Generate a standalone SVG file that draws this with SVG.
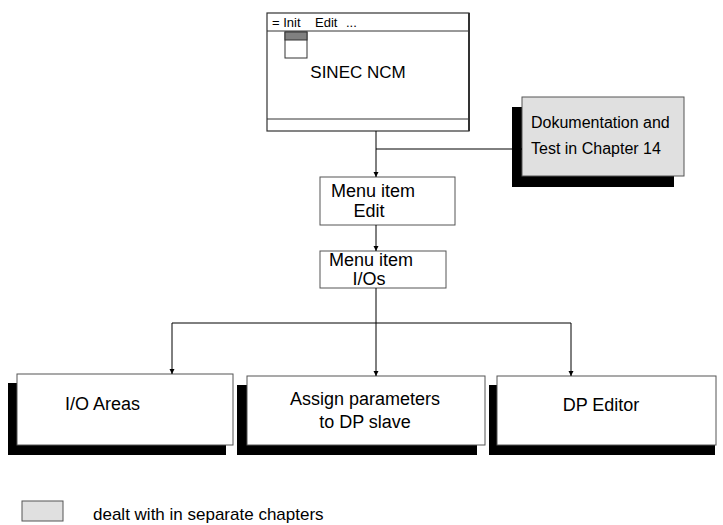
<svg xmlns="http://www.w3.org/2000/svg" width="723" height="525" viewBox="0 0 723 525">
  <defs>
    <marker id="arrow" markerWidth="6" markerHeight="6" refX="5" refY="3" orient="auto" markerUnits="userSpaceOnUse">
      <path d="M0,0.5 L5,3 L0,5.5 Z" fill="#000"/>
    </marker>
  </defs>
  <style>
    text { font-family: "Liberation Sans", Arial, sans-serif; fill: #000; }
    .lbl { font-size: 18px; }
    .doc { font-size: 16px; }
    .note { font-size: 17px; }
    .menu { font-size: 13px; }
    .box { fill: #fff; stroke: #555; stroke-width: 1; }
    .grey { fill: #e0e0e0; stroke: #555; stroke-width: 1; }
    .shadow { fill: #000; }
    .win { fill: #fff; stroke: #333; stroke-width: 1.2; }
    .conn { fill: none; stroke: #000; stroke-width: 1; }
    .mid { text-anchor: middle; }
  </style>
  <rect width="723" height="525" fill="#fff"/>

  <!-- application window -->
  <g id="sinec-ncm">
    <rect class="win" x="267" y="13" width="202" height="118"/>
    <line x1="267" y1="31" x2="469" y2="31" stroke="#333" stroke-width="1"/>
    <line x1="267" y1="119" x2="469" y2="119" stroke="#333" stroke-width="1"/>
    <line x1="469" y1="13" x2="469" y2="131" stroke="#333" stroke-width="2"/>
    <text class="menu" y="27"><tspan x="272">= Init</tspan><tspan x="315">Edit</tspan><tspan x="346">...</tspan></text>
    <rect x="285" y="32" width="22" height="26" fill="#fff" stroke="#333" stroke-width="1"/>
    <rect x="285" y="32" width="22" height="8" fill="#808080" stroke="#333" stroke-width="1"/>
    <text class="note mid" x="358" y="78">SINEC NCM</text>
  </g>

  <!-- documentation box -->
  <g id="doku">
    <rect class="shadow" x="512" y="107" width="162" height="80"/>
    <rect class="grey" x="522" y="97" width="162" height="79"/>
    <text class="doc" x="531" y="128">Dokumentation and</text>
    <text class="doc" x="531" y="154">Test in Chapter 14</text>
  </g>

  <!-- menu item Edit -->
  <g id="menu-edit">
    <rect class="box" x="320" y="177" width="135" height="48"/>
    <text class="lbl mid" x="373" y="197">Menu item</text>
    <text class="lbl mid" x="369" y="217">Edit</text>
  </g>

  <!-- menu item I/Os -->
  <g id="menu-ios">
    <rect class="box" x="320" y="251" width="126" height="37"/>
    <text class="lbl mid" x="371" y="266">Menu item</text>
    <text class="lbl mid" x="369" y="285">I/Os</text>
  </g>

  <!-- I/O Areas -->
  <g id="io-areas">
    <rect class="shadow" x="8" y="383" width="218" height="72"/>
    <rect class="box" x="17" y="374" width="216" height="71"/>
    <text class="lbl" x="65" y="410">I/O Areas</text>
  </g>

  <!-- Assign parameters -->
  <g id="assign-params">
    <rect class="shadow" x="237" y="385" width="240" height="70"/>
    <rect class="box" x="247" y="376" width="238" height="69"/>
    <text class="lbl mid" x="365" y="405">Assign parameters</text>
    <text class="lbl mid" x="365" y="428">to DP slave</text>
  </g>

  <!-- DP Editor -->
  <g id="dp-editor">
    <rect class="shadow" x="489" y="385" width="226" height="70"/>
    <rect class="box" x="497" y="376" width="219" height="69"/>
    <text class="lbl mid" x="601" y="411">DP Editor</text>
  </g>

  <!-- legend -->
  <g id="legend">
    <rect class="grey" x="22" y="501" width="41" height="20"/>
    <text class="note" x="93" y="520">dealt with in separate chapters</text>
  </g>

  <!-- connectors -->
  <g id="connectors">
    <line class="conn" x1="376" y1="131" x2="376" y2="177" marker-end="url(#arrow)"/>
    <line class="conn" x1="376" y1="149" x2="522" y2="149" marker-end="url(#arrow)"/>
    <line class="conn" x1="376" y1="225" x2="376" y2="251" marker-end="url(#arrow)"/>
    <line class="conn" x1="376" y1="288" x2="376" y2="376" marker-end="url(#arrow)"/>
    <line class="conn" x1="172" y1="323" x2="571" y2="323"/>
    <line class="conn" x1="172" y1="323" x2="172" y2="374" marker-end="url(#arrow)"/>
    <line class="conn" x1="571" y1="323" x2="571" y2="376" marker-end="url(#arrow)"/>
  </g>
</svg>
